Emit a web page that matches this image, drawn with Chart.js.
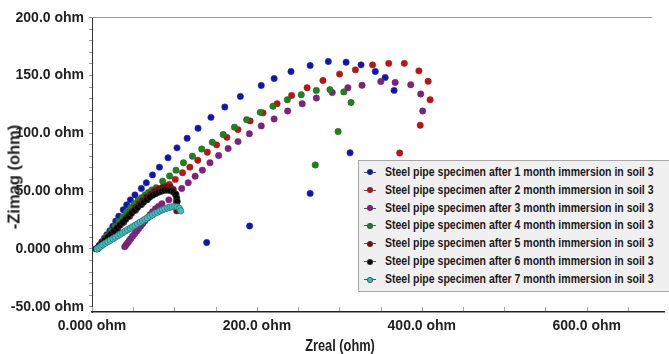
<!DOCTYPE html>
<html>
<head>
<meta charset="utf-8">
<script src="https://cdn.jsdelivr.net/npm/chart.js@4.4.1/dist/chart.umd.min.js"></script>
<style>
  html, body { margin: 0; padding: 0; background: #fff; }
  #wrap { position: relative; width: 669px; height: 354px; overflow: hidden; }
  #chart { position: absolute; left: 0; top: 0; }
  .title { position: absolute; font: bold 16px 'Liberation Sans', Arial, sans-serif; color: #222; white-space: nowrap; }
  #xTitle { left: 340px; top: 346px; transform: translate(-50%, -50%) scaleX(0.8); }
  #yTitle { left: 14px; top: 177px; transform: translate(-50%, -50%) rotate(-90deg); font-size: 16.5px; }
  #legend { position: absolute; left: 358px; top: 160px; width: 312px; height: 132px; box-sizing: border-box;
            background: #f0f0f0; border: 1px solid #a8a8a8; border-right: none; padding-top: 2.8px; }
  .row { height: 17.9px; line-height: 17.9px; white-space: nowrap; font: bold 13.3px 'Liberation Sans', Arial, sans-serif; color: #1a1a1a; }
  .txt { display: inline-block; transform: scaleX(0.79); transform-origin: 0 50%; }
  .mark { display: inline-block; position: relative; width: 12px; height: 10px; margin-left: 5px; margin-right: 9px; vertical-align: middle; }
  .mark::before { content: ''; position: absolute; left: 0; right: 0; top: 4.5px; height: 1px; background: #555; }
  .dot { position: absolute; left: 3px; top: 2px; width: 6px; height: 6px; border-radius: 50%; box-sizing: border-box; border: 1px solid rgba(60,60,60,.7); }
</style>
</head>
<body>
<div id="wrap">
  <canvas id="chart" width="669" height="354"></canvas>
  <div id="xTitle" class="title">Zreal (ohm)</div>
  <div id="yTitle" class="title">-Zimag (ohm)</div>
  <div id="legend"></div>
</div>
<script>
// series names
const monthLabels = [
    'Steel pipe specimen after 1 month immersion in soil 3',
    'Steel pipe specimen after 2 month immersion in soil 3',
    'Steel pipe specimen after 3 month immersion in soil 3',
    'Steel pipe specimen after 4 month immersion in soil 3',
    'Steel pipe specimen after 5 month immersion in soil 3',
    'Steel pipe specimen after 6 month immersion in soil 3',
    'Steel pipe specimen after 7 month immersion in soil 3'
];

// Zreal / -Zimag (ohm)
const zReal1 = [6.0, 9.0, 12.0, 15.0, 18.0, 21.6, 25.3, 28.9, 32.5, 37.9, 42.1, 46.5, 52.1, 59.9, 65.9, 73.4, 81.8, 92.2, 103.1, 115.4, 128.6, 144.3, 161.1, 180.0, 205.3, 220.9, 241.4, 264.6, 286.6, 308.2, 326.3, 343.6, 355.6, 366.4, 313.0, 264.6, 191.2, 139.1];
const zImag1 = [0.2, 3.2, 6.2, 9.2, 12.2, 15.7, 19.6, 23.9, 28.2, 33.8, 38.1, 42.4, 46.7, 52.3, 57.2, 64.0, 70.7, 78.8, 87.4, 95.7, 104.3, 113.8, 122.7, 131.9, 141.4, 147.4, 153.4, 158.6, 162.1, 161.5, 159.2, 153.4, 148.3, 137.1, 83.1, 48.0, 19.8, 5.5];

const zReal2 = [8.4, 13.2, 19.2, 25.3, 31.3, 38.5, 45.7, 52.9, 60.1, 67.3, 75.8, 85.4, 93.8, 101.0, 109.8, 118.7, 128.3, 139.9, 151.2, 163.6, 177.1, 191.8, 207.4, 224.5, 242.1, 260.9, 280.1, 300.3, 319.5, 340.3, 359.9, 378.8, 396.5, 407.7, 410.1, 398.1, 373.2];
const zImag2 = [1.5, 4.9, 9.2, 13.5, 17.8, 23.0, 28.2, 33.4, 38.5, 42.8, 48.0, 52.8, 55.8, 60.1, 65.9, 70.7, 76.7, 83.6, 90.0, 96.5, 103.2, 110.7, 117.7, 125.6, 132.7, 139.4, 145.7, 151.2, 154.9, 159.2, 160.5, 160.5, 154.0, 145.0, 129.0, 106.9, 82.9];

const zReal3 = [39.7, 41.5, 43.3, 45.1, 46.9, 49.3, 51.7, 54.1, 56.5, 58.9, 61.3, 64.3, 67.3, 70.4, 73.4, 77.0, 80.6, 84.8, 93.2, 101.6, 108.8, 116.7, 125.1, 133.9, 143.1, 153.6, 165.1, 177.1, 190.9, 205.3, 220.9, 237.3, 255.0, 272.1, 291.4, 310.3, 327.5, 350.3, 367.7, 386.6, 398.7, 401.1];
const zImag3 = [1.9, 3.6, 5.3, 7.1, 8.8, 10.9, 13.1, 15.3, 17.4, 19.6, 21.7, 24.3, 26.9, 29.5, 32.1, 34.7, 36.8, 39.0, 42.4, 47.2, 52.3, 57.2, 62.9, 68.1, 74.5, 80.8, 86.8, 92.8, 99.6, 106.4, 112.4, 119.3, 125.6, 130.5, 135.3, 139.4, 141.5, 144.8, 144.0, 142.0, 134.0, 119.3];

const zReal4 = [7.2, 10.8, 14.4, 18.0, 22.8, 27.7, 32.5, 37.3, 42.1, 46.9, 51.4, 55.9, 60.1, 64.3, 68.5, 72.8, 77.8, 85.7, 94.2, 101.9, 111.0, 121.8, 133.1, 145.9, 159.1, 172.8, 187.6, 204.1, 219.5, 236.9, 253.8, 272.1, 288.6, 305.4, 314.2, 298.5, 270.8];
const zImag4 = [0.6, 4.1, 7.5, 11.0, 15.3, 19.6, 23.9, 27.8, 32.1, 35.9, 39.1, 42.0, 44.3, 46.7, 48.9, 51.0, 52.9, 58.6, 63.1, 68.1, 74.5, 80.2, 86.4, 92.2, 98.9, 105.3, 111.8, 118.1, 123.4, 129.0, 133.4, 137.1, 137.8, 135.8, 126.7, 101.5, 72.6];

const zReal5 = [6.0, 9.6, 13.2, 16.8, 20.4, 24.1, 27.7, 31.3, 34.9, 38.5, 42.1, 45.7, 49.3, 52.9, 57.1, 61.3, 66.1, 71.0, 75.8, 80.6, 85.4, 90.2, 95.0, 98.6, 101.0, 102.2, 102.8];
const zImag5 = [0.2, 2.8, 5.3, 7.9, 10.5, 13.1, 16.1, 18.7, 21.3, 23.9, 26.9, 29.9, 32.9, 35.9, 39.0, 42.0, 45.0, 47.6, 50.2, 51.9, 53.2, 54.0, 53.6, 51.5, 47.2, 41.1, 32.9];

const zReal6 = [4.8, 8.4, 12.0, 15.6, 19.2, 22.8, 26.5, 30.1, 33.7, 37.3, 40.9, 44.5, 48.1, 51.7, 55.3, 58.9, 62.5, 66.1, 69.8, 73.4, 77.0, 80.6, 84.2, 87.8, 91.4, 95.0, 98.6, 101.6, 102.8, 103.4];
const zImag6 = [0.0, 2.3, 4.9, 7.5, 10.1, 12.7, 15.3, 17.8, 20.4, 23.0, 25.6, 28.2, 30.8, 33.4, 35.9, 38.1, 40.3, 42.4, 44.6, 46.3, 47.6, 48.9, 49.9, 50.6, 50.8, 50.4, 49.3, 47.2, 44.1, 41.1];

const zReal7 = [6.0, 8.4, 10.8, 13.2, 16.2, 19.2, 22.2, 25.3, 28.3, 31.3, 34.3, 37.3, 40.3, 43.3, 46.3, 49.3, 52.3, 55.3, 58.3, 61.3, 64.3, 67.3, 70.4, 73.4, 76.4, 79.4, 82.4, 85.4, 88.4, 91.4, 94.4, 97.4, 100.4, 103.4, 105.8, 107.6];
const zImag7 = [0.0, 1.0, 2.3, 3.6, 4.9, 6.2, 7.5, 8.8, 10.1, 11.4, 12.7, 14.0, 15.3, 16.6, 17.8, 19.1, 20.4, 21.7, 23.0, 24.3, 25.6, 26.9, 28.2, 29.5, 30.8, 31.8, 32.9, 33.8, 34.7, 35.4, 36.0, 36.5, 36.6, 36.3, 35.1, 32.9];

// tick labels
const xTickValues = [0, 200, 400, 600];
const xTickLabels = ['0.000 ohm', '200.0 ohm', '400.0 ohm', '600.0 ohm'];
const yTickValues = [-50, 0, 50, 100, 150, 200];
const yTickLabels = ['-50.00 ohm', '0.000 ohm', '50.00 ohm', '100.0 ohm', '150.0 ohm', '200.0 ohm'];

const seriesColors = ['#0a12c8', '#d20a0a', '#8a1a8a', '#148a14', '#860000', '#000000', '#34c6c6'];

const zReal = [zReal1, zReal2, zReal3, zReal4, zReal5, zReal6, zReal7];
const zImag = [zImag1, zImag2, zImag3, zImag4, zImag5, zImag6, zImag7];

const tickFont = { family: "'Liberation Sans', Arial, sans-serif", size: 14, weight: 'bold' };

// ticks every `step` between lo and hi
function stepTicks(lo, hi, step) {
    const out = [];
    for (let v = lo; v <= hi; v += step) out.push({ value: v });
    return out;
}

// top frame line + small x ticks inside the plot
const framePlugin = {
    id: 'frame',
    afterDraw(chart) {
        const { ctx, chartArea: a, scales: { x } } = chart;
        ctx.save();
        ctx.strokeStyle = '#9a9a9a';
        ctx.lineWidth = 1;
        ctx.beginPath();
        ctx.moveTo(a.left, a.top + 0.5);
        ctx.lineTo(a.right - 12, a.top + 0.5);
        ctx.stroke();
        ctx.strokeStyle = '#aaa';
        ctx.beginPath();
        x.ticks.forEach(t => {
            const px = Math.round(x.getPixelForValue(t.value)) + 0.5;
            ctx.moveTo(px, a.bottom - 1);
            ctx.lineTo(px, a.bottom - 5);
        });
        ctx.stroke();
        ctx.restore();
    }
};

const datasets = monthLabels.map((label, i) => ({
    label: label,
    data: zReal[i].map((xv, k) => ({ x: xv, y: zImag[i][k] })),
    showLine: false,
    pointRadius: 3.2,
    pointBackgroundColor: seriesColors[i],
    pointBorderColor: 'rgba(70,70,70,0.65)',
    pointBorderWidth: 0.8,
    order: monthLabels.length - i
}));

const chart = new Chart(document.getElementById('chart').getContext('2d'), {
    type: 'scatter',
    data: { datasets: datasets },
    options: {
        responsive: false,
        animation: false,
        layout: { padding: { top: 17, left: 0, right: 0, bottom: 0 } },
        plugins: { legend: { display: false }, tooltip: { enabled: false } },
        scales: {
            x: {
                type: 'linear',
                min: 0,
                max: 694,
                afterFit(s) { s.height = 42; },
                afterBuildTicks(s) { s.ticks = stepTicks(0, 650, 50); },
                grid: { display: false, drawTicks: false },
                border: { color: '#222', width: 1.5 },
                ticks: {
                    autoSkip: false,
                    maxRotation: 0,
                    padding: 6,
                    color: '#222',
                    font: tickFont,
                    callback(v) {
                        const k = xTickValues.indexOf(v);
                        return k >= 0 ? xTickLabels[k] : '';
                    }
                }
            },
            y: {
                type: 'linear',
                min: -54.6,
                max: 200.6,
                afterFit(s) { s.width = 92; },
                afterBuildTicks(s) { s.ticks = stepTicks(-50, 200, 10); },
                grid: { display: true, drawOnChartArea: false, drawTicks: true, tickLength: 3, color: '#999' },
                border: { color: '#333', width: 1 },
                ticks: {
                    autoSkip: false,
                    padding: 5,
                    color: '#222',
                    font: tickFont,
                    callback(v) {
                        const k = yTickValues.indexOf(v);
                        return k >= 0 ? yTickLabels[k] : '';
                    }
                }
            }
        }
    },
    plugins: [framePlugin]
});

// legend box drawn as html, built from the chart's datasets
const legendBox = document.getElementById('legend');
chart.data.datasets.forEach(ds => {
    const row = document.createElement('div');
    row.className = 'row';
    const mark = document.createElement('span');
    mark.className = 'mark';
    const dot = document.createElement('span');
    dot.className = 'dot';
    dot.style.background = ds.pointBackgroundColor;
    mark.appendChild(dot);
    row.appendChild(mark);
    const txt = document.createElement('span');
    txt.className = 'txt';
    txt.textContent = ds.label;
    row.appendChild(txt);
    legendBox.appendChild(row);
});
</script>
</body>
</html>
